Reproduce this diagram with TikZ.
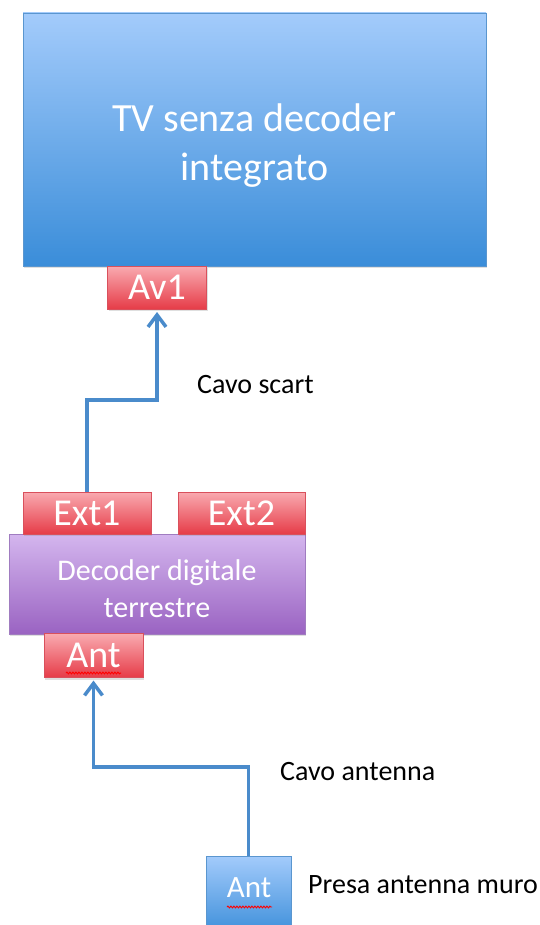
\documentclass[tikz,border=0pt]{standalone}
\usepackage{fontspec}
\setmainfont{Carlito}
\usetikzlibrary{arrows.meta,shadows,decorations.pathmorphing}
\definecolor{tvtop}{HTML}{A3CBFB}
\definecolor{tvbot}{HTML}{3A8DD9}
\definecolor{tvedge}{HTML}{5A96CF}
\definecolor{redtop}{HTML}{F9AAB0}
\definecolor{redbot}{HTML}{E63C48}
\definecolor{rededge}{HTML}{D9505C}
\definecolor{purtop}{HTML}{D4B6EE}
\definecolor{purbot}{HTML}{9A63C2}
\definecolor{puredge}{HTML}{A07CC0}
\definecolor{wire}{HTML}{4A8BCB}
\tikzset{
  boxbase/.style={rectangle, inner sep=0pt, outer sep=0pt, line width=0.8pt,
    drop shadow={opacity=0.25, shadow xshift=1pt, shadow yshift=-2pt}},
  bluebox/.style={boxbase, draw=tvedge, top color=tvtop, bottom color=tvbot, text=white},
  redbox/.style={boxbase, draw=rededge, top color=redtop, bottom color=redbot, text=white,
    font=\fontsize{38}{40}\selectfont},
  purbox/.style={boxbase, draw=puredge, top color=purtop, bottom color=purbot, text=white},
  intext/.style={inner sep=0pt, text=white, align=center},
  lbl/.style={anchor=west, inner sep=0pt, text=black, font=\fontsize{28}{32}\selectfont},
  cable/.style={draw=wire, line width=3.5pt, line join=miter},
  tip/.style={-{Straight Barb[length=12pt,width=18pt]}, shorten >=3pt},
  spell/.style={draw=red, line width=0.9pt, decorate,
    decoration={snake, segment length=3pt, amplitude=0.9pt}}
}
\begin{document}
\begin{tikzpicture}[x=1pt,y=-1pt]
\useasboundingbox (0,0) rectangle (540,925);
\clip (0,0) rectangle (540,925);
% TV
\node[bluebox, minimum width=463pt, minimum height=253pt] (tv) at (254.5,139.5) {};
\node[intext, font=\fontsize{40}{49}\selectfont] (tvtxt) at (254.5,146) {TV senza decoder\\integrato};
\node[redbox, minimum width=99pt, minimum height=43pt] (av1) at (157,287.5) {Av1};
% Decoder
\node[purbox, minimum width=296pt, minimum height=100pt] (dec) at (157,584) {};
\node[intext, font=\fontsize{30}{37}\selectfont] (dectxt) at (157,589) {Decoder digitale\\terrestre};
\node[redbox, minimum width=128pt, minimum height=42pt] (ext1) at (87,513) {Ext1};
\node[redbox, minimum width=127pt, minimum height=42pt] (ext2) at (241.5,513) {Ext2};
\node[redbox, minimum width=99pt, minimum height=44pt] (antd) at (93.5,655.5) {Ant};
% Wall socket
\node[bluebox, minimum width=85pt, minimum height=80pt] (wall) at (248.5,896) {};
\node[intext, font=\fontsize{31}{34}\selectfont] (walltxt) at (249,888) {Ant};
% spell-check underlines
\draw[spell] (66,673) -- (121,673);
\draw[spell] (227,907) -- (272,907);
% connectors
\coordinate (c1) at (0,400);
\coordinate (c2) at (0,767);
\draw[cable, tip] (ext1.north) -- (ext1.north |- c1) -- (av1.south |- c1) -- (av1.south);
\draw[cable, tip] (wall.north) -- (wall.north |- c2) -- (antd.south |- c2) -- (antd.south);
% labels
\node[lbl] (l1) at (197,385) {Cavo scart};
\node[lbl] (l2) at (280,772) {Cavo antenna};
\node[lbl] (l3) at (308,885) {Presa antenna muro};
\end{tikzpicture}
\end{document}
